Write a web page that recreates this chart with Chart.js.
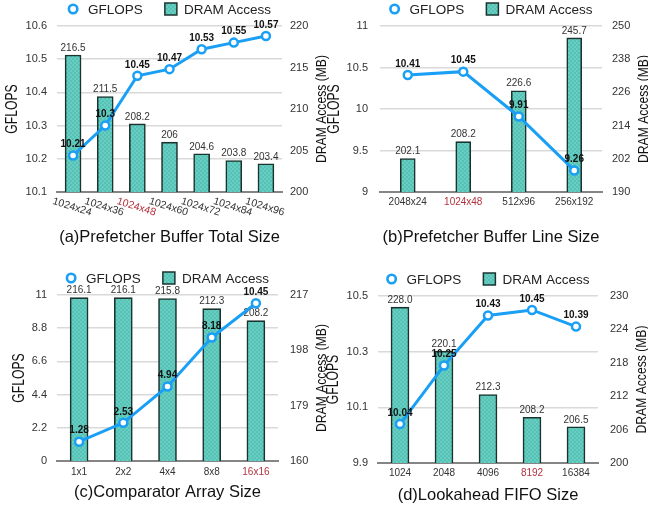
<!DOCTYPE html>
<html><head><meta charset="utf-8">
<script src="https://cdn.jsdelivr.net/npm/chart.js@4.4.1/dist/chart.umd.min.js"></script>
<style>
html,body{margin:0;padding:0;background:#fff;}
body{width:648px;height:507px;position:relative;overflow:hidden;}
canvas{position:absolute;}
</style></head>
<body>
<canvas id="ca" width="335" height="253" style="left:0;top:0"></canvas>
<canvas id="cb" width="324" height="253" style="left:324px;top:0"></canvas>
<canvas id="cc" width="335" height="254" style="left:0;top:253px"></canvas>
<canvas id="cd" width="324" height="254" style="left:324px;top:253px"></canvas>
<script>
// ---------- data ----------
const catsA = ['1024x24','1024x36','1024x48','1024x60','1024x72','1024x84','1024x96'];
const gflopsA = [10.21,10.3,10.45,10.47,10.53,10.55,10.57];
const dramA = [216.5,211.5,208.2,206,204.6,203.8,203.4];
const leftTicksA = [10.1,10.2,10.3,10.4,10.5,10.6];
const rightTicksA = [200,205,210,215,220];

const catsB = ['2048x24','1024x48','512x96','256x192'];
const gflopsB = [10.41,10.45,9.91,9.26];
const dramB = [202.1,208.2,226.6,245.7];
const leftTicksB = [9,9.5,10,10.5,11];
const rightTicksB = [190,202,214,226,238,250];

const catsC = ['1x1','2x2','4x4','8x8','16x16'];
const gflopsC = [1.28,2.53,4.94,8.18,10.45];
const dramC = [216.1,216.1,215.8,212.3,208.2];
const leftTicksC = [0,2.2,4.4,6.6,8.8,11];
const rightTicksC = [160,179,198,217];

const catsD = ['1024','2048','4096','8192','16384'];
const gflopsD = [10.04,10.25,10.43,10.45,10.39];
const dramD = [228.0,220.1,212.3,208.2,206.5];
const leftTicksD = [9.9,10.1,10.3,10.5];
const rightTicksD = [200,206,212,218,224,230];

const titles = ['(a)Prefetcher Buffer Total Size','(b)Prefetcher Buffer Line Size','(c)Comparator Array Size','(d)Lookahead FIFO Size'];
const highlighted = ['1024x48','1024x48','16x16','8192'];
const seriesNames = ['GFLOPS','DRAM Access'];
const leftAxisName = 'GFLOPS';
const rightAxisName = 'DRAM Access (MB)';

// ---------- style ----------
const FONT = "'Liberation Sans', Arial, Helvetica, sans-serif";
const LINE_COLOR = '#199ff5';
const BAR_BORDER = '#1a332f';
const RED = '#b2323e';
const TXT = '#333';

function makePattern(ctx){
  const c = document.createElement('canvas'); c.width = 4; c.height = 4;
  const g = c.getContext('2d');
  g.fillStyle = '#54c3b5'; g.fillRect(0,0,4,4);
  g.fillStyle = '#69cdc1'; g.fillRect(0,0,2,2); g.fillRect(2,2,2,2);
  return ctx.createPattern(c,'repeat');
}

const valueLabels = {
  id:'valueLabels',
  afterDatasetDraw(chart, args){
    const o = chart.config.options.plugins.valueLabels;
    const ctx = chart.ctx, meta = args.meta, ds = chart.data.datasets[args.index];
    ctx.save();
    ctx.textAlign = 'center'; ctx.textBaseline = 'middle';
    meta.data.forEach((el,i)=>{
      const v = ds.data[i];
      if (meta.type === 'bar'){
        ctx.font = `10px ${FONT}`; ctx.fillStyle = TXT;
        ctx.fillText(o.barFixed ? v.toFixed(o.barFixed) : String(v), el.x, el.y - 7);
      } else {
        ctx.font = `bold 10px ${FONT}`; ctx.fillStyle = '#111';
        ctx.fillText(String(v), el.x, el.y - 11);
      }
    });
    ctx.restore();
  }
};

const customLegend = {
  id:'customLegend',
  afterDraw(chart){
    const o = chart.config.options.plugins.customLegend;
    const ctx = chart.ctx, ca = chart.chartArea;
    const ds = chart.data.datasets;
    const cx = (ca.left + ca.right)/2, y = o.y;
    ctx.save();
    ctx.font = `13.5px ${FONT}`;
    const w1 = ctx.measureText(ds[0].label).width, w2 = ctx.measureText(ds[1].label).width;
    const total = 10 + 10 + w1 + 22 + 12 + 7 + w2;
    let x = cx - total/2;
    ctx.beginPath(); ctx.arc(x+5, y, 4.2, 0, Math.PI*2);
    ctx.fillStyle = '#fff'; ctx.fill();
    ctx.lineWidth = 2.6; ctx.strokeStyle = LINE_COLOR; ctx.stroke();
    x += 20;
    ctx.fillStyle = '#222'; ctx.textAlign = 'left'; ctx.textBaseline = 'middle';
    ctx.fillText(ds[0].label, x, y + 1);
    x += w1 + 22;
    ctx.fillStyle = ds[1].backgroundColor; ctx.fillRect(x, y-6, 12, 12);
    ctx.lineWidth = 1.5; ctx.strokeStyle = BAR_BORDER; ctx.strokeRect(x, y-6, 12, 12);
    x += 19;
    ctx.fillStyle = '#222';
    ctx.fillText(ds[1].label, x, y + 1);
    ctx.restore();
  }
};

const axisTitles = {
  id:'axisTitles',
  afterDraw(chart){
    const o = chart.config.options.plugins.axisTitles;
    const ctx = chart.ctx, ca = chart.chartArea;
    const cy = (ca.top + ca.bottom)/2;
    ctx.save();
    ctx.fillStyle = '#111'; ctx.textAlign = 'center'; ctx.textBaseline = 'middle';
    const draw = (text, x, size, sx) => {
      ctx.save(); ctx.translate(x, cy); ctx.rotate(-Math.PI/2); ctx.scale(sx, 1);
      ctx.font = `${size}px ${FONT}`; ctx.fillText(text, 0, 0); ctx.restore();
    };
    draw(leftAxisName, o.leftX, 16, 0.76);
    draw(rightAxisName, o.rightX, 15, 0.81);
    ctx.restore();
  }
};

const rotatedX = {
  id:'rotatedX',
  afterDraw(chart){
    const o = chart.config.options.plugins.rotatedX;
    if (!o.enabled) return;
    const ctx = chart.ctx, xs = chart.scales.x, ca = chart.chartArea;
    ctx.save();
    ctx.font = `10.5px ${FONT}`; ctx.textAlign = 'center'; ctx.textBaseline = 'middle';
    chart.data.labels.forEach((lab,i)=>{
      const x = xs.getPixelForValue(i);
      ctx.save(); ctx.translate(x - 1, ca.bottom + 15); ctx.rotate(17*Math.PI/180);
      ctx.fillStyle = lab === o.hl ? RED : TXT;
      ctx.fillText(lab, 0, 0); ctx.restore();
    });
    ctx.restore();
  }
};

function panel(id, c){
  const canvas = document.getElementById(id);
  const ctx = canvas.getContext('2d');
  const pattern = makePattern(ctx);
  const tickFont = {family:FONT, size:11};
  new Chart(ctx, {
    type:'bar',
    data:{
      labels:c.cats,
      datasets:[
        {type:'line', label:seriesNames[0], data:c.gflops, yAxisID:'y', order:1,
         borderColor:LINE_COLOR, borderWidth:3, pointRadius:4, pointBorderWidth:2.5,
         pointBackgroundColor:'#fff', pointBorderColor:LINE_COLOR, tension:0},
        {type:'bar', label:seriesNames[1], data:c.dram, yAxisID:'y1', order:2,
         backgroundColor:pattern, borderColor:BAR_BORDER, borderWidth:1.6,
         barThickness:c.barW, borderSkipped:false}
      ]
    },
    options:{
      responsive:false, animation:false, events:[],
      layout:{padding:{top:c.top, left:0, right:0, bottom:0}},
      plugins:{
        legend:{display:false}, tooltip:{enabled:false},
        valueLabels:{barFixed:c.barFixed||0},
        customLegend:{y:c.legendY},
        axisTitles:{leftX:c.leftTitleX, rightX:c.rightTitleX},
        rotatedX:{enabled:!!c.rotate, hl:c.hl}
      },
      scales:{
        x:{
          grid:{display:false, drawTicks:false},
          border:{display:true, color:'#858585', width:2},
          ticks:{display:!c.rotate, padding:c.xPad, font:{family:FONT, size:10}, maxRotation:0, autoSkip:false,
                 color: t => c.cats[t.index] === c.hl ? RED : TXT},
          title:{display:true, text:c.title, font:{family:FONT, size:16.5}, color:'#111', padding:{top:0, bottom:c.titlePad}},
          afterFit: s => { s.height = c.xH; }
        },
        y:{
          position:'left', min:c.lt[0], max:c.lt[c.lt.length-1],
          afterBuildTicks: s => { s.ticks = c.lt.map(v=>({value:v})); },
          ticks:{callback:v=>String(v), padding:c.lPad, font:tickFont, color:TXT},
          grid:{color:'#d9d9d9', lineWidth:1.5, drawTicks:false},
          border:{display:false},
          afterFit: s => { s.width = c.lW; }
        },
        y1:{
          position:'right', min:c.rt[0], max:c.rt[c.rt.length-1],
          afterBuildTicks: s => { s.ticks = c.rt.map(v=>({value:v})); },
          ticks:{callback:v=>String(v), padding:c.rPad, font:tickFont, color:TXT},
          grid:{display:false, drawTicks:false},
          border:{display:false},
          afterFit: s => { s.width = c.rW; }
        }
      }
    },
    plugins:[valueLabels, customLegend, axisTitles, rotatedX]
  });
}

panel('ca', {cats:catsA, gflops:gflopsA, dram:dramA, lt:leftTicksA, rt:rightTicksA, title:titles[0], hl:highlighted[0],
  barW:16, top:26, xH:61, titlePad:6, lW:57, rW:53, lPad:10, rPad:8, legendY:9, leftTitleX:13, rightTitleX:322, rotate:true, xPad:4});
panel('cb', {cats:catsB, gflops:gflopsB, dram:dramB, lt:leftTicksB, rt:rightTicksB, title:titles[1], hl:highlighted[1],
  barW:15, top:26, xH:61, titlePad:6, lW:56, rW:46, lPad:12, rPad:10, legendY:9, leftTitleX:11, rightTitleX:320, xPad:4});
panel('cc', {cats:catsC, gflops:gflopsC, dram:dramC, lt:leftTicksC, rt:rightTicksC, title:titles[2], hl:highlighted[2],
  barW:18, top:42, xH:46, titlePad:5, lW:57, rW:57, lPad:10, rPad:12, legendY:25, leftTitleX:20, rightTitleX:322, xPad:5});
panel('cd', {cats:catsD, gflops:gflopsD, dram:dramD, lt:leftTicksD, rt:rightTicksD, title:titles[3], hl:highlighted[3],
  barW:18, top:43, xH:44, titlePad:2, lW:54, rW:50, lPad:10, rPad:12, legendY:26, leftTitleX:10, rightTitleX:318, xPad:4, barFixed:1});
</script>
</body></html>
